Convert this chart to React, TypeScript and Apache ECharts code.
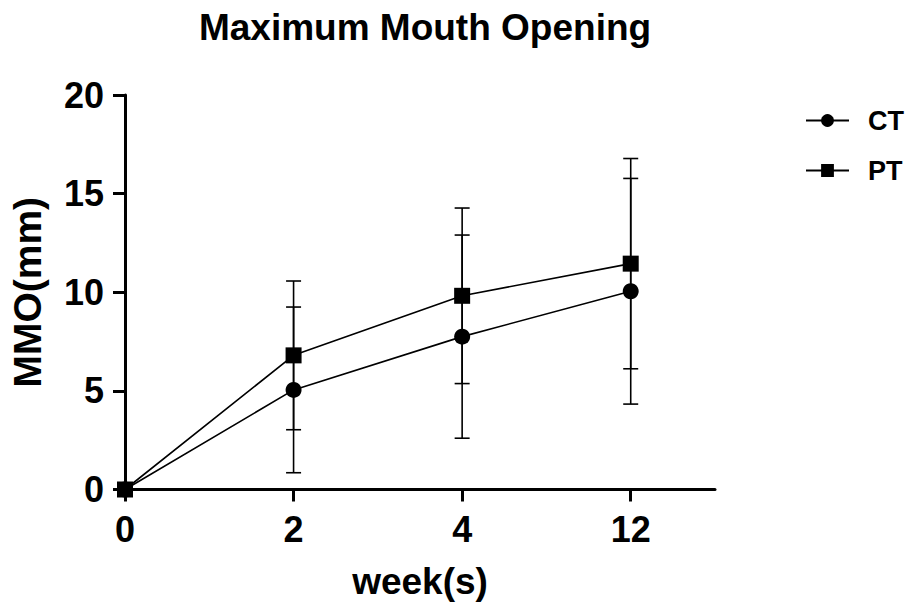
import React, { useEffect, useRef } from "react";
import * as echarts from "echarts";

const weeks = ["0", "2", "4", "12"];
const ctMean = [0, 5.05, 7.75, 10.05];
const ctSD = [0, 4.2, 5.15, 5.72];
const ptMean = [0, 6.8, 9.82, 11.45];
const ptSD = [0, 3.77, 4.45, 5.33];

const FONT = "'Liberation Sans', Arial, sans-serif";

function errData(mean: number[], sd: number[]) {
  return mean.map((m, i) => [i, m - sd[i], m + sd[i]]);
}

function renderErr(params: any, api: any) {
  const x = api.value(0);
  const lo = api.value(1);
  const hi = api.value(2);
  if (hi === lo) return null;
  const top = api.coord([x, hi]);
  const bot = api.coord([x, lo]);
  const hw = 7.5;
  const st = { stroke: "#000", lineWidth: 1.6 };
  return {
    type: "group",
    children: [
      { type: "line", shape: { x1: top[0], y1: top[1], x2: bot[0], y2: bot[1] }, style: st },
      { type: "line", shape: { x1: top[0] - hw, y1: top[1], x2: top[0] + hw, y2: top[1] }, style: st },
      { type: "line", shape: { x1: bot[0] - hw, y1: bot[1], x2: bot[0] + hw, y2: bot[1] }, style: st },
    ],
  };
}

export default function App() {
  const ref = useRef<HTMLDivElement>(null);
  useEffect(() => {
    if (!ref.current) return;
    const chart = echarts.init(ref.current, null, { renderer: "svg" });
    const idx = weeks.map((_, i) => i);
    chart.setOption({
      animation: false,
      backgroundColor: "#fff",
      title: {
        text: "Maximum Mouth Opening",
        left: 420,
        top: 4,
        textAlign: "center",
        textStyle: { fontFamily: FONT, fontWeight: "bold", fontSize: 37, color: "#000" },
      },
      legend: {
        orient: "vertical",
        left: 805,
        top: 107,
        padding: 0,
        itemWidth: 43,
        itemHeight: 16,
        itemGap: 23,
        data: ["CT", "PT"],
        textStyle: { fontFamily: FONT, fontWeight: "bold", fontSize: 27, color: "#000", padding: [0, 0, 0, 14] },
      },
      grid: { left: 125, right: 191, top: 95, bottom: 117.5, containLabel: false },
      xAxis: {
        type: "value",
        min: 0,
        max: 3.5,
        interval: 1,
        name: "week(s)",
        nameLocation: "middle",
        nameGap: 73,
        nameTextStyle: { fontFamily: FONT, fontWeight: "bold", fontSize: 37, color: "#000" },
        axisLine: { show: true, lineStyle: { color: "#000", width: 3 } },
        axisTick: { show: true, length: 12, lineStyle: { color: "#000", width: 3 }, customValues: idx },
        axisLabel: {
          customValues: idx,
          margin: 22,
          fontFamily: FONT,
          fontWeight: "bold",
          fontSize: 36,
          color: "#000",
          formatter: (v: number) => weeks[v] ?? "",
        },
        splitLine: { show: false },
      },
      yAxis: {
        type: "value",
        min: 0,
        max: 20,
        interval: 5,
        name: "MMO(mm)",
        nameLocation: "middle",
        nameGap: 78,
        nameTextStyle: { fontFamily: FONT, fontWeight: "bold", fontSize: 39, color: "#000" },
        axisLine: { show: true, lineStyle: { color: "#000", width: 3 } },
        axisTick: { show: true, length: 12, lineStyle: { color: "#000", width: 3 } },
        axisLabel: { margin: 21, fontFamily: FONT, fontWeight: "bold", fontSize: 36, color: "#000" },
        splitLine: { show: false },
      },
      series: [
        {
          type: "custom",
          name: "CT err",
          renderItem: renderErr,
          data: errData(ctMean, ctSD),
          encode: { x: 0, y: [1, 2] },
          z: 1,
        },
        {
          type: "custom",
          name: "PT err",
          renderItem: renderErr,
          data: errData(ptMean, ptSD),
          encode: { x: 0, y: [1, 2] },
          z: 1,
        },
        {
          type: "line",
          name: "CT",
          data: ctMean.map((v, i) => [i, v]),
          symbol: "circle",
          symbolSize: 16,
          itemStyle: { color: "#000" },
          lineStyle: { color: "#000", width: 1.6 },
          z: 3,
        },
        {
          type: "line",
          name: "PT",
          data: ptMean.map((v, i) => [i, v]),
          symbol: "rect",
          symbolSize: 16,
          itemStyle: { color: "#000" },
          lineStyle: { color: "#000", width: 1.6 },
          z: 4,
        },
      ],
    });
    return () => chart.dispose();
  }, []);
  return <div ref={ref} style={{ width: 906, height: 607, position: "absolute", left: 0, top: 0 }} />;
}
